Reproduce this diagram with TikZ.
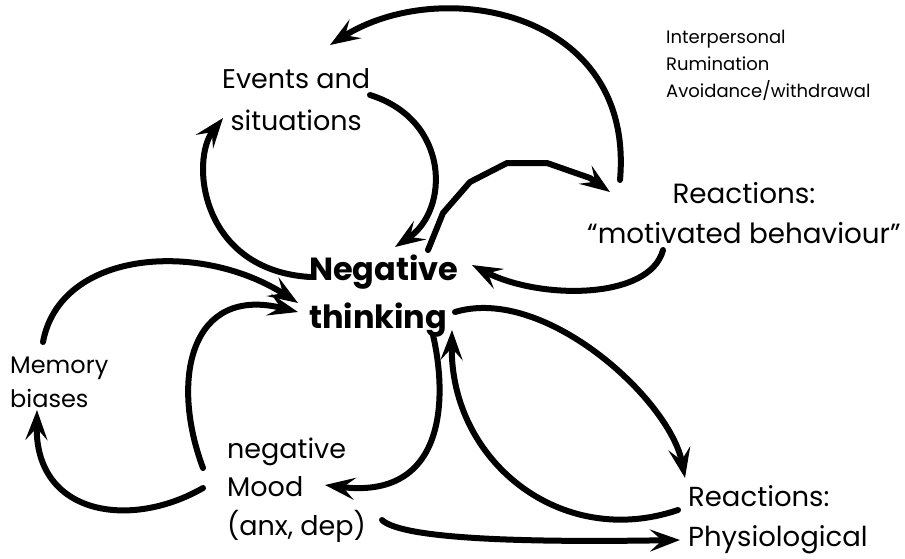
\documentclass[tikz,border=0pt]{standalone}
\usepackage{fontspec}
\setmainfont{Poppins}
\usetikzlibrary{arrows.meta}
\begin{document}
\begin{tikzpicture}[x=1pt,y=-1pt,
    label/.style={inner sep=0pt,anchor=base west},
    arr/.style={line width=6pt,line cap=round,-{Stealth[length=30pt,width=22pt,inset=12pt]}}]
  \useasboundingbox (0,0) rectangle (905,558);
  % anchors sit on the baseline of the last line
  \node[label,align=center,font=\fontsize{27}{42}\selectfont] (events) at (222,130) {Events and\\situations};
  \node[label,align=left,font=\fontsize{18}{27}\selectfont] (notes) at (666,97) {Interpersonal\\Rumination\\Avoidance/withdrawal};
  \node[label,align=center,font=\fontsize{27.8}{40}\selectfont] (motiv) at (587,243) {Reactions:\\“motivated behaviour”};
  \node[label,align=left,font=\fontsize{32}{48}\selectfont\bfseries] (thinking) at (309,328) {Negative\\thinking};
  \node[label,align=left,font=\fontsize{24}{34}\selectfont] (memory) at (10,407) {Memory\\biases};
  \node[label,align=left,font=\fontsize{27}{38.5}\selectfont] (mood) at (227,535) {negative\\Mood\\(anx, dep)};
  \node[label,align=left,font=\fontsize{27.5}{40}\selectfont] (physio) at (688,546) {Reactions:\\Physiological};
  \begin{scope}[arr]
    \draw ([shift={(33,-63)}]motiv.base west) .. controls (635,10) and (440,-25) .. ([shift={(108,-85)}]events.base west);
    \draw ([shift={(148,-35)}]events.base west) .. controls (450,120) and (450,210) .. ([shift={(86,-81)}]thinking.base west);
    \draw[line join=round] ([shift={(119,-78)}]thinking.base west) -- (443,213) -- (470,182) -- (507,163) -- (547,163) -- (590,178) -- ([shift={(23,-51)}]motiv.base west);
    \draw ([shift={(1,-51)}]thinking.base west) .. controls (200,270) and (190,160) .. ([shift={(1,-12)}]events.base west);
    \draw ([shift={(76,7)}]motiv.base west) .. controls (650,300) and (540,300) .. ([shift={(163,-63)}]thinking.base west);
    \draw ([shift={(146,-16)}]thinking.base west) .. controls (545,285) and (670,400) .. ([shift={(-3,-68)}]physio.base west);
    \draw ([shift={(-10,-36)}]physio.base west) .. controls (560,550) and (450,460) .. ([shift={(143,2)}]thinking.base west);
    \draw ([shift={(124,7)}]thinking.base west) .. controls (448,400) and (445,500) .. ([shift={(98,-50)}]mood.base west);
    \draw ([shift={(155,-15)}]mood.base west) .. controls (400,537) and (500,543) .. ([shift={(-8,-6)}]physio.base west);
    \draw ([shift={(-24,-67)}]mood.base west) .. controls (170,380) and (190,285) .. ([shift={(-11,-16)}]thinking.base west);
    \draw ([shift={(-24,-47)}]mood.base west) .. controls (130,530) and (35,515) .. ([shift={(27,3)}]memory.base west);
    \draw ([shift={(33,-65)}]memory.base west) .. controls (60,250) and (200,240) .. ([shift={(-11,-25)}]thinking.base west);
  \end{scope}
\end{tikzpicture}
\end{document}
